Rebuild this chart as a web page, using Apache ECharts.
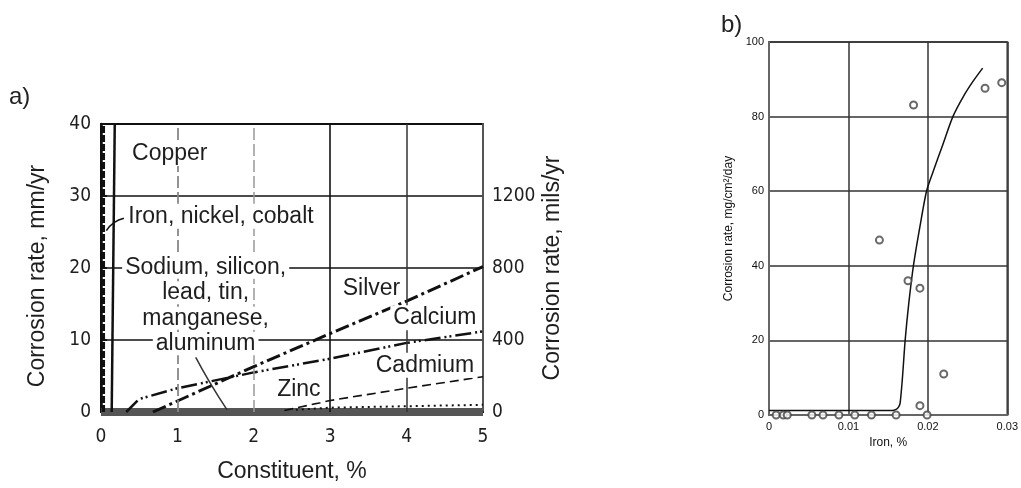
<!DOCTYPE html>
<html>
<head>
<meta charset="utf-8">
<script src="https://cdn.jsdelivr.net/npm/echarts@6/dist/echarts.min.js"></script>
<style>
  html, body { margin: 0; padding: 0; background: #fff; }
  #chart { width: 1021px; height: 488px; }
</style>
</head>
<body>
<div id="chart"></div>
<script>
// ---- Panel a: corrosion rate vs. constituent content, [%, mm/yr] ----
const copper = [[0.14, 0], [0.18, 40]];
const ironNickelCobalt = [[0.03, 0], [0.03, 40]];
const sodiumGroup = [[0, 0], [5, 0]];
const silver = [[0.68, 0], [2, 6.3], [3, 10.9], [4, 15.4], [5, 20.2]];
const calcium = [[0.33, 0], [0.5, 1.8], [1, 3.3], [2, 5.5], [3, 7.4], [4, 9.6], [5, 11.2]];
const cadmium = [[2.4, 0.2], [3, 1.6], [4, 3.3], [5, 4.9]];
const zinc = [[2.55, 0.3], [3, 0.6], [4, 0.8], [5, 1.0]];
const ironLeader = [[0.30, 26.9], [0.17, 26.3], [0.07, 25.2]];
const groupLeader = [[1.24, 7.6], [1.42, 4.2], [1.65, 0.3]];
const groupLines = ['Sodium, silicon,', 'lead, tin,', 'manganese,', 'aluminum'];

// ---- Panel b: corrosion rate vs. iron content ----
const ironPct = [0.0009, 0.0018, 0.0023, 0.0054, 0.0068, 0.0088, 0.0108, 0.0129, 0.016, 0.0199,
                 0.0139, 0.0175, 0.0182, 0.019, 0.019, 0.022, 0.0272, 0.0293];
const ironRate = [0, 0, 0, 0, 0, 0, 0, 0, 0, 0,
                  46.9, 36.0, 83.1, 34.0, 2.5, 11.0, 87.6, 89.1];
const fitPct = [0, 0.0155, 0.0160, 0.0163, 0.0165, 0.0168, 0.01714, 0.0176, 0.01818, 0.0190,
                0.01983, 0.0207, 0.0218, 0.02315, 0.0245, 0.0257, 0.0269];
const fitRate = [1.2, 1.2, 1.5, 2.1, 3.1, 10, 20, 30, 40, 50.5,
                 60, 65.5, 72, 80, 85.5, 89.5, 93];

const INK = '#1e1e1e';
const SANS = "'Liberation Sans', Arial, sans-serif";
const NARROW = "'Liberation Sans Narrow', 'DejaVu Sans Condensed', 'Liberation Sans', sans-serif";

function note(text, x, y) {
  return {
    coord: [x, y], symbolSize: 0,
    label: {
      show: true, position: 'inside', formatter: text,
      fontFamily: SANS, fontSize: 23, color: INK,
      backgroundColor: '#fff', padding: [1, 3]
    }
  };
}

function curve(name, data, style, extra) {
  return Object.assign({
    name, type: 'line', xAxisIndex: 0, yAxisIndex: 0, data,
    showSymbol: false, symbol: 'none', clip: false, silent: true, z: 3,
    lineStyle: Object.assign({ color: '#111', width: 2 }, style)
  }, extra || {});
}

const chart = echarts.init(document.getElementById('chart'), null, { renderer: 'canvas' });

chart.setOption({
  animation: false,
  backgroundColor: '#fff',
  grid: [
    { left: 101, top: 124, width: 382, height: 294, show: true, borderColor: '#111', borderWidth: 2 },
    { left: 769, top: 42, width: 241, height: 373, show: true, borderColor: '#666', borderWidth: 2 }
  ],
  xAxis: [
    {
      gridIndex: 0, type: 'value', min: 0, max: 5, interval: 1,
      axisLine: { lineStyle: { color: '#111', width: 2 } },
      axisTick: { show: false },
      axisLabel: { margin: 16, fontSize: 19, color: INK, fontFamily: NARROW },
      splitLine: { show: false },
      name: 'Constituent, %', nameLocation: 'middle', nameGap: 48,
      nameTextStyle: { fontSize: 23, color: INK, fontFamily: SANS }
    },
    {
      gridIndex: 1, type: 'value', min: 0, max: 0.03, interval: 0.01,
      axisLine: { lineStyle: { color: '#666', width: 2 } },
      axisTick: { show: false },
      axisLabel: {
        margin: 6, fontSize: 11, color: '#111', fontFamily: SANS,
        formatter: v => (v === 0 ? '0' : v.toFixed(2))
      },
      splitLine: { lineStyle: { color: '#333', width: 1.5 } },
      name: 'Iron, %', nameLocation: 'middle', nameGap: 21,
      nameTextStyle: { fontSize: 12, color: '#111', fontFamily: SANS }
    }
  ],
  yAxis: [
    {
      gridIndex: 0, type: 'value', min: 0, max: 40, interval: 10,
      axisLine: { show: true, lineStyle: { color: '#111', width: 2.5 } },
      axisTick: { show: true, inside: true, length: 6, lineStyle: { color: '#111', width: 2 } },
      axisLabel: { margin: 10, fontSize: 19, color: INK, fontFamily: NARROW },
      splitLine: { lineStyle: { color: '#111', width: 1.5 } },
      name: 'Corrosion rate, mm/yr', nameLocation: 'middle', nameGap: 52,
      nameTextStyle: { fontSize: 23, color: INK, fontFamily: SANS, padding: [0, 16, 0, 0] }
    },
    {
      gridIndex: 0, type: 'value', position: 'right', min: 0, max: 1600, interval: 400,
      axisLine: { show: true, lineStyle: { color: '#555', width: 2 } },
      axisTick: { show: false },
      axisLabel: {
        margin: 9, fontSize: 19, color: INK, fontFamily: NARROW,
        formatter: v => (v === 1600 ? '' : String(v))
      },
      splitLine: { show: false },
      name: 'Corrosion rate, mils/yr', nameLocation: 'middle', nameGap: 58,
      nameTextStyle: { fontSize: 23, color: INK, fontFamily: SANS }
    },
    {
      gridIndex: 1, type: 'value', min: 0, max: 100, interval: 20,
      axisLine: { show: true, lineStyle: { color: '#666', width: 2 } },
      axisTick: { show: false },
      axisLabel: { margin: 5, fontSize: 11, color: '#111', fontFamily: SANS },
      splitLine: { lineStyle: { color: '#333', width: 1.5 } },
      name: 'Corrosion rate, mg/cm²/day', nameLocation: 'middle', nameGap: 34,
      nameTextStyle: { fontSize: 12, color: '#111', fontFamily: SANS }
    }
  ],
  graphic: [
    { type: 'text', left: 9, top: 85, style: { text: 'a)', fontSize: 24, fill: '#222', fontFamily: SANS } },
    { type: 'text', left: 721, top: 13, style: { text: 'b)', fontSize: 24, fill: '#222', fontFamily: SANS } }
  ],
  series: [
    // vertical rules of panel a at 1..4 %
    {
      name: 'rules', type: 'line', xAxisIndex: 0, yAxisIndex: 0, data: [], z: 1, silent: true,
      markLine: {
        silent: true, symbol: 'none', label: { show: false }, animation: false,
        data: [
          { xAxis: 1, lineStyle: { color: '#888', type: [12, 4], width: 1.8 } },
          { xAxis: 2, lineStyle: { color: '#999', type: [12, 4], width: 1.5 } },
          { xAxis: 3, lineStyle: { color: '#111', type: 'solid', width: 1.6 } },
          { xAxis: 4, lineStyle: { color: '#333', type: 'solid', width: 1.5 } }
        ]
      }
    },
    curve('Sodium, silicon, lead, tin, manganese, aluminum', sodiumGroup,
      { color: '#555', width: 8 }, {
        z: 2,
        markPoint: {
          silent: true, animation: false,
          data: [{
            coord: [1.37, 14.8], symbolSize: 0,
            label: {
              show: true, position: 'inside',
              formatter: groupLines.map(t => '{t|' + t + '}').join('\n'),
              rich: {
                t: {
                  fontFamily: SANS, fontSize: 23, color: INK, lineHeight: 25.5,
                  backgroundColor: '#fff', padding: [0, 3], align: 'center'
                }
              }
            }
          }]
        }
      }),
    curve('Copper', copper, { width: 2.5 }, {
      markPoint: { silent: true, animation: false, data: [note('Copper', 0.9, 35.9)] }
    }),
    curve('Iron, nickel, cobalt', ironNickelCobalt, { width: 3.5, type: [7, 2] }, {
      markPoint: { silent: true, animation: false, data: [note('Iron, nickel, cobalt', 1.57, 27.2)] }
    }),
    curve('Iron leader', ironLeader, { width: 1.5 }, { smooth: 0.5 }),
    curve('Group leader', groupLeader, { width: 1.5, color: '#333' }, { smooth: 0.5 }),
    curve('Silver', silver, { width: 3, type: [14, 4, 3, 4] }, {
      markPoint: { silent: true, animation: false, data: [note('Silver', 3.54, 17.1)] }
    }),
    curve('Calcium', calcium, { width: 2.5, type: [16, 4, 2, 3, 2, 4] }, {
      markPoint: { silent: true, animation: false, data: [note('Calcium', 4.37, 13.1)] }
    }),
    curve('Cadmium', cadmium, { width: 1.6, type: [9, 5] }, {
      markPoint: { silent: true, animation: false, data: [note('Cadmium', 4.24, 6.5)] }
    }),
    curve('Zinc', zinc, { width: 2, type: [2, 4] }, {
      markPoint: { silent: true, animation: false, data: [note('Zinc', 2.59, 3.1)] }
    }),

    // panel b
    {
      name: 'Fit', type: 'line', xAxisIndex: 1, yAxisIndex: 2,
      data: fitPct.map((x, i) => [x, fitRate[i]]),
      smooth: 0.25, showSymbol: false, symbol: 'none', silent: true,
      lineStyle: { color: '#111', width: 1.5 }
    },
    {
      name: 'Measured', type: 'scatter', xAxisIndex: 1, yAxisIndex: 2,
      data: ironPct.map((x, i) => [x, ironRate[i]]),
      symbol: 'emptyCircle', symbolSize: 7, clip: false, silent: true, z: 4,
      itemStyle: { color: '#444', borderColor: '#444', borderWidth: 1.3 }
    }
  ]
});
</script>
</body>
</html>
